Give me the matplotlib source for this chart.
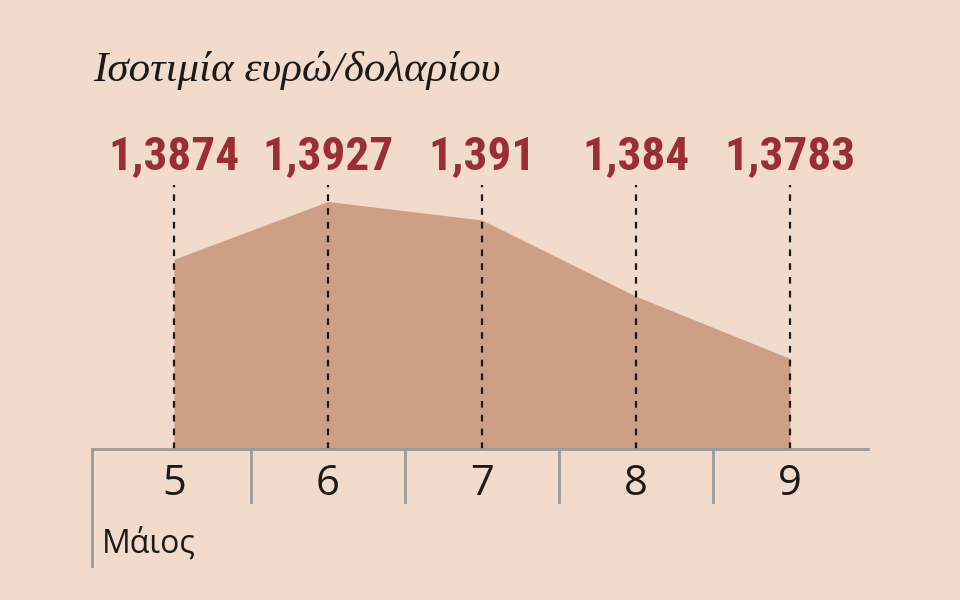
import matplotlib.pyplot as plt
import matplotlib.transforms as mtransforms
from matplotlib.lines import Line2D

days = [5, 6, 7, 8, 9]
rates = [1.3874, 1.3927, 1.391, 1.384, 1.3783]
rate_labels = ['1,3874', '1,3927', '1,391', '1,384', '1,3783']
month = 'Μάιος'
title = 'Ισοτιμία ευρώ/δολαρίου'

bg = '#f2dbcb'
fill = '#cda086'
red = '#9b2d35'
grey = '#9a9a9a'

fig = plt.figure(figsize=(9.6, 6), dpi=100, facecolor=bg)
# axes box in pixels: x 92..868, y(bottom) 151..424
ax = fig.add_axes([92 / 960, 151 / 600, 776 / 960, 272.6 / 600])
ax.set_facecolor(bg)
ax.set_xlim(4.468, 9.506)
ax.set_ylim(1.37, 1.395)

ax.fill_between(days, rates, 1.37, color=fill, lw=0)
ax.vlines(days, 1.37, 1.3942, colors='#1a1a1a', linestyles=(0, (3, 3.2)), lw=1.6)

for s in ['top', 'right', 'left']:
    ax.spines[s].set_visible(False)
ax.spines['bottom'].set_color(grey)
ax.spines['bottom'].set_linewidth(2)
ax.set_xticks([])
ax.set_yticks([])

# value labels above the dashed lines
for d, lab in zip(days, rate_labels):
    ax.annotate(lab, (d, 1.0), xycoords=('data', 'axes fraction'),
                xytext=(0, 15), textcoords='offset points', ha='center', va='center',
                fontsize=34, fontweight='bold', color=red,
                family=['Liberation Sans Narrow', 'Roboto Condensed', 'Roboto'])

# day cells under the axis
trans = mtransforms.blended_transform_factory(ax.transData, ax.transAxes)
for d in days:
    ax.text(d, -0.13, str(d), transform=trans, ha='center', va='center',
            fontsize=30, color='#1a1a1a', family='Open Sans')
for d in days[:-1]:
    ax.add_line(Line2D([d + 0.5, d + 0.5], [0, -0.195], transform=trans,
                       color=grey, lw=2, clip_on=False))
ax.add_line(Line2D([0, 0], [0, -0.43], transform=ax.transAxes,
                   color=grey, lw=2, clip_on=False))
ax.text(0.013, -0.35, month, transform=ax.transAxes, ha='left', va='center',
        fontsize=23, color='#1a1a1a', family='Open Sans')

fig.text(93 / 960, 1 - 70 / 600, title, ha='left', va='center', fontsize=31,
         style='italic', color='#1a1a1a', family='Liberation Serif')

fig.savefig('out.png', dpi=100, facecolor=bg)
